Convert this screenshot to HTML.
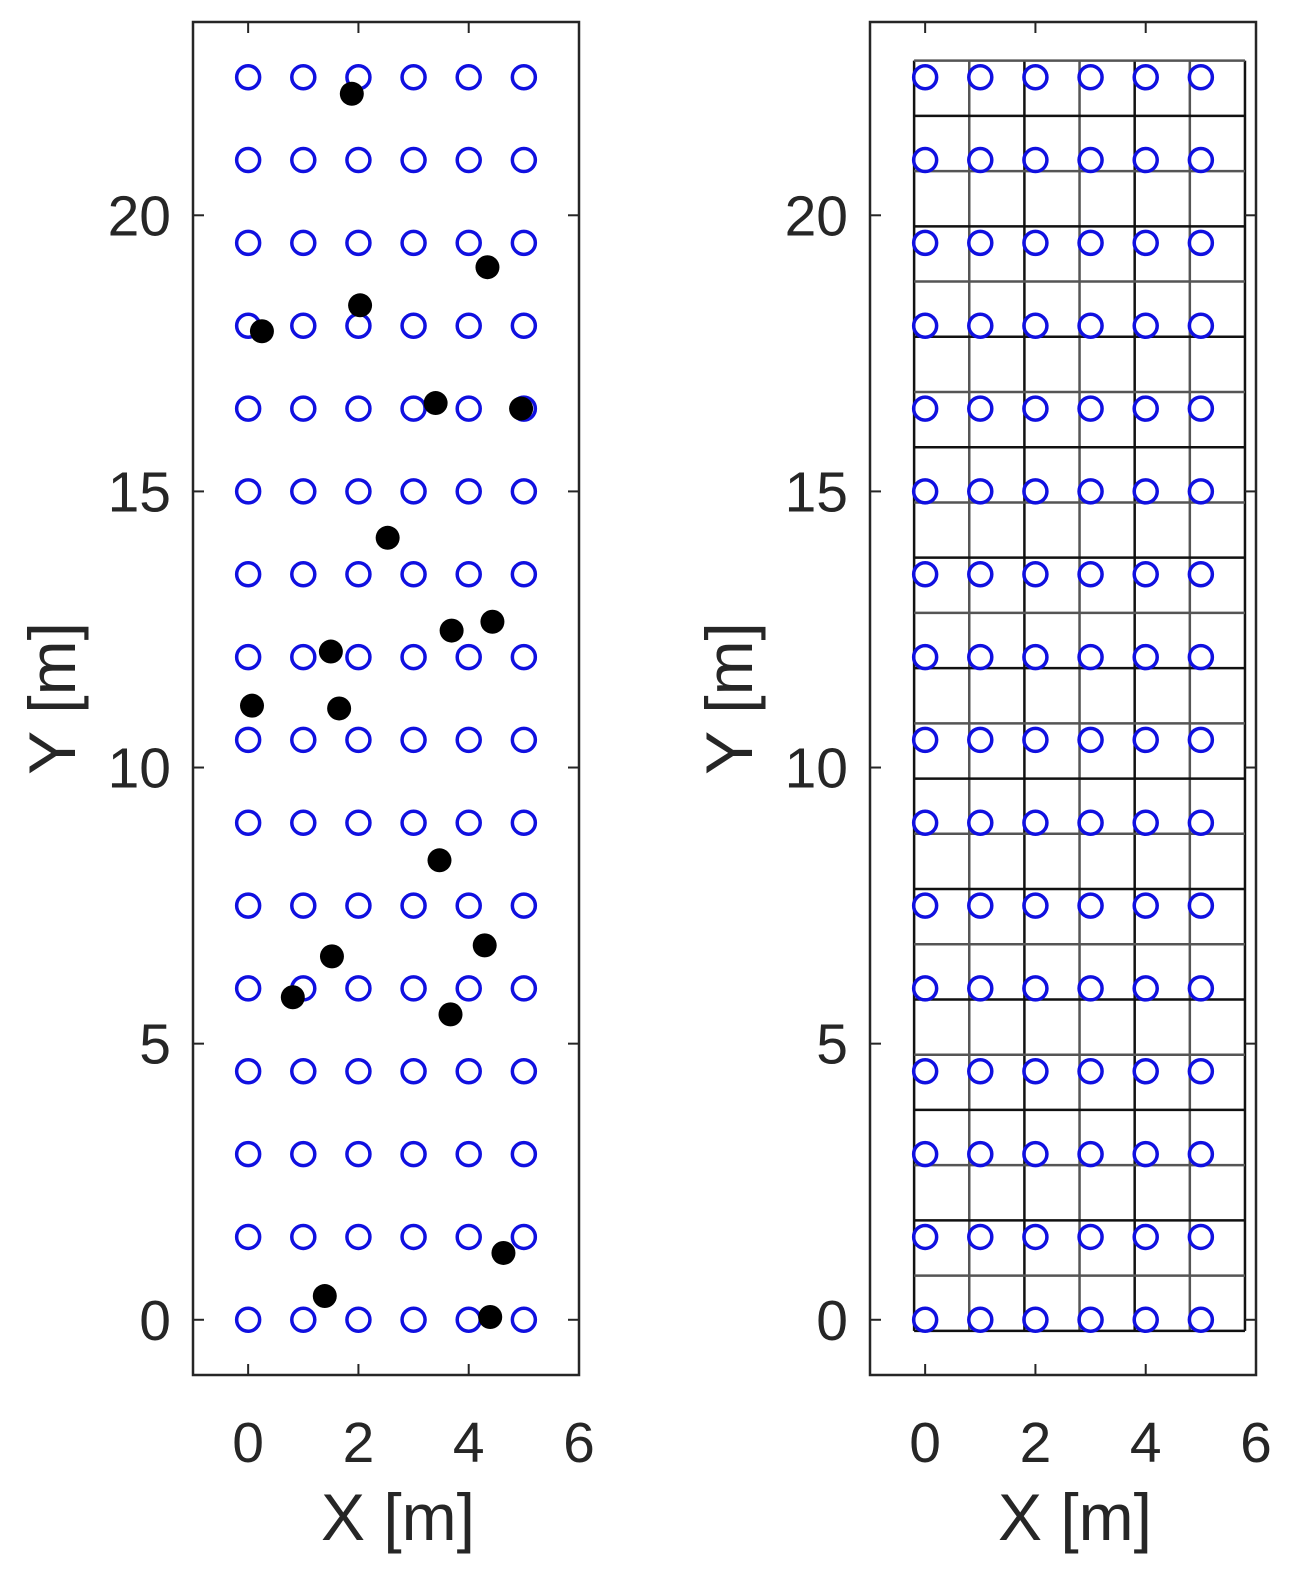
<!DOCTYPE html>
<html><head><meta charset="utf-8"><style>
html,body{margin:0;padding:0;background:#fff}
svg{display:block}
text{font-family:"Liberation Sans",Arial,sans-serif;fill:#262626}
</style></head><body>
<svg id="chart" width="1303" height="1586" viewBox="0 0 1303 1586" xmlns="http://www.w3.org/2000/svg"></svg>
<script>
const gridXs = [0,1,2,3,4,5];
const gridYs = [0,1.5,3,4.5,6,7.5,9,10.5,12,13.5,15,16.5,18,19.5,21,22.5];
const dotX = [1.88,4.34,2.03,0.25,3.4,4.95,2.53,4.43,3.69,1.5,0.07,1.65,3.47,4.29,1.52,0.81,3.67,4.63,1.39,4.39];
const dotY = [22.2,19.06,18.37,17.9,16.6,16.5,14.16,12.64,12.48,12.1,11.12,11.07,8.32,6.78,6.58,5.84,5.53,1.21,0.43,0.05];
const xTicks = [0,2,4,6];
const yTicks = [0,5,10,15,20];
const cellXs = [-0.2,0.8,1.8,2.8,3.8,4.8,5.8];
const cellYs = [-0.2,0.8,1.8,2.8,3.8,4.8,5.8,6.8,7.8,8.8,9.8,10.8,11.8,12.8,13.8,14.8,15.8,16.8,17.8,18.8,19.8,20.8,21.8,22.8];

const NS = "http://www.w3.org/2000/svg";
const svg = document.getElementById('chart');
function mk(tag, attrs, parent){const e=document.createElementNS(NS,tag);for(const k in attrs)e.setAttribute(k,attrs[k]);(parent||svg).appendChild(e);return e;}

function panel(left, name, withCells, withDots){
  const X0=left, X1=left+386, Y0=22, Y1=1375;
  const sx = v => X0 + (v+1)/7*(X1-X0);
  const sy = v => Y1 - (v+1)/24.5*(Y1-Y0);
  const g = mk('g',{});
  
  
  if(withCells){
    const cg = mk('g',{},g);
    
    
    cellXs.forEach((v,i)=>{const l=mk('line',{x1:sx(v),x2:sx(v),y1:sy(cellYs[0]),y2:sy(cellYs[cellYs.length-1]),stroke:i%2?'#555':'#111','stroke-width':2.5},cg);
      
      });
    cellYs.forEach((v,i)=>{const l=mk('line',{x1:sx(cellXs[0]),x2:sx(cellXs[cellXs.length-1]),y1:sy(v),y2:sy(v),stroke:i%2?'#555':'#111','stroke-width':2.5},cg);
      
      });
  }
  const og = mk('g',{},g);
  
  
  gridYs.forEach(y=>gridXs.forEach(x=>{
    const c=mk('circle',{cx:sx(x),cy:sy(y),r:11.5,fill:'none',stroke:'#1010e0','stroke-width':3.5},og);
    
    
  }));
  if(withDots){
    const dg = mk('g',{},g);
    
    
    dotX.forEach((x,i)=>{
      const c=mk('circle',{cx:sx(x),cy:sy(dotY[i]),r:12,fill:'#000'},dg);
      
      
    });
  }
  const box=mk('rect',{x:X0,y:Y0,width:X1-X0,height:Y1-Y0,fill:'none',stroke:'#262626','stroke-width':2.5},g);
  
  
  xTicks.forEach(t=>{
    mk('line',{x1:sx(t),x2:sx(t),y1:Y1,y2:Y1-11,stroke:'#262626','stroke-width':2},g);
    mk('line',{x1:sx(t),x2:sx(t),y1:Y0,y2:Y0+11,stroke:'#262626','stroke-width':2},g);
    const tx=mk('text',{x:sx(t),y:1462,'text-anchor':'middle','font-size':57},g);
    tx.textContent=t;
    
    
  });
  yTicks.forEach(t=>{
    mk('line',{x1:X0,x2:X0+11,y1:sy(t),y2:sy(t),stroke:'#262626','stroke-width':2},g);
    mk('line',{x1:X1,x2:X1-11,y1:sy(t),y2:sy(t),stroke:'#262626','stroke-width':2},g);
    const tx=mk('text',{x:X0-22,y:sy(t)+20,'text-anchor':'end','font-size':57},g);
    tx.textContent=t;
    
    
  });
  const xl=mk('text',{x:(X0+X1)/2+12,y:1540,'text-anchor':'middle','font-size':66},g);
  xl.textContent='X [m]';
  
  
  const yx=X0-118, yy=(Y0+Y1)/2;
  const yl=mk('text',{x:yx,y:yy,'text-anchor':'middle','font-size':66,transform:`rotate(-90 ${yx} ${yy})`},g);
  yl.textContent='Y [m]';
  
  
}
panel(193,'left-panel',false,true);
panel(870,'right-panel',true,false);
</script>
</body></html>
